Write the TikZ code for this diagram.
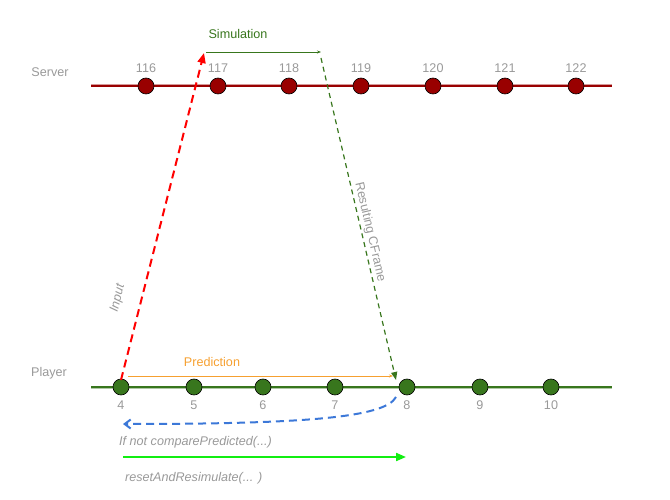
\documentclass[tikz,border=0pt]{standalone}
\usepackage{fontspec}
\setmainfont{Liberation Sans}
\usetikzlibrary{arrows.meta}
\definecolor{srv}{HTML}{990000}
\definecolor{plr}{HTML}{38761D}
\definecolor{lbl}{HTML}{999999}
\definecolor{pred}{HTML}{F6A030}
\definecolor{blu}{HTML}{3C78D8}
\definecolor{lime}{HTML}{11EE11}
\begin{document}
\begin{tikzpicture}[x=1pt,y=-1pt,
  every node/.style={font=\fontsize{12.6}{15}\selectfont, inner sep=0pt},
  sdot/.style={circle, draw=black, line width=0.6pt, fill=srv, minimum size=16pt},
  pdot/.style={circle, draw=black, line width=0.6pt, fill=plr, minimum size=16pt},
  tick/.style={text=lbl},
  side/.style={text=lbl}]
\useasboundingbox (0,0) rectangle (670,500);
% server line
\coordinate (sl) at (91,86); \coordinate (sr) at (612,86);
\draw[srv!40, line width=3pt] (sl) -- (sr);
\draw[srv, line width=1.5pt] (sl) -- (sr);
\foreach \x/\n in {146/116,218/117,289/118,361/119,433/120,505/121,576/122}{
  \node[sdot] (s\n) at (\x,86) {};
  \node[tick] (ts\n) at (\x,68) {\n};
}
\node[side] (server) at (50,72) {Server};
% player line
\coordinate (pl) at (91,387); \coordinate (pr) at (612,387);
\draw[plr!40, line width=3pt] (pl) -- (pr);
\draw[plr, line width=1.5pt] (pl) -- (pr);
\foreach \x/\n in {121/4,194/5,263/6,335/7,407/8,480/9,551/10}{
  \node[pdot] (p\n) at (\x,387) {};
  \node[tick] (tp\n) at (\x,405) {\n};
}
\node[side] (player) at (49,373) {Player};
% input arrow
\coordinate (inS) at (121,380);
\coordinate (inE) at (204,53);
\draw[red, line width=2pt, dash pattern=on 8pt off 5pt, -{Triangle[length=10pt,width=8pt]}] (inS) -- (inE);
\node[side, rotate=75.8] (input) at (118,298) {\textit{Input}};
% simulation
\coordinate (simS) at (206,52);
\coordinate (simE) at (321,52);
\draw[plr, line width=0.8pt, -{Stealth[length=4pt,width=3pt]}] (simS) -- (simE);
\node[text=plr] (sim) at (238,34) {Simulation};
% resulting cframe
\coordinate (rcS) at (321,58);
\coordinate (rcE) at (396,380);
\draw[plr, line width=1.2pt, dash pattern=on 5pt off 4pt, -{Triangle[length=8pt,width=6pt]}] (rcS) -- (rcE);
\node[side, rotate=-76.9] (rc) at (370,232) {Resulting CFrame};
% prediction
\coordinate (prS) at (128,376);
\coordinate (prE) at (393,376);
\draw[pred, line width=0.8pt, -{Stealth[length=4pt,width=3pt]}] (prS) -- (prE);
\node[text=pred] (predl) at (212,362) {Prediction};
% blue dashed curved
\coordinate (bS) at (396,397);
\coordinate (bE) at (123,424);
\draw[blu, line width=2pt, dash pattern=on 8pt off 5pt, -{Straight Barb[length=6pt,width=9pt]}] (bS) .. controls (385,418) and (300,424) .. (bE);
\node[text=lbl, anchor=west] (ifnot) at (119,442) {\textit{If not comparePredicted(...)}};
% resimulate
\coordinate (gS) at (123,457);
\coordinate (gE) at (406,457);
\draw[lime, line width=2pt, -{Triangle[length=10pt,width=8pt]}] (gS) -- (gE);
\node[text=lbl, anchor=west] (reset) at (125,478) {\textit{resetAndResimulate(... )}};
\end{tikzpicture}
\end{document}
